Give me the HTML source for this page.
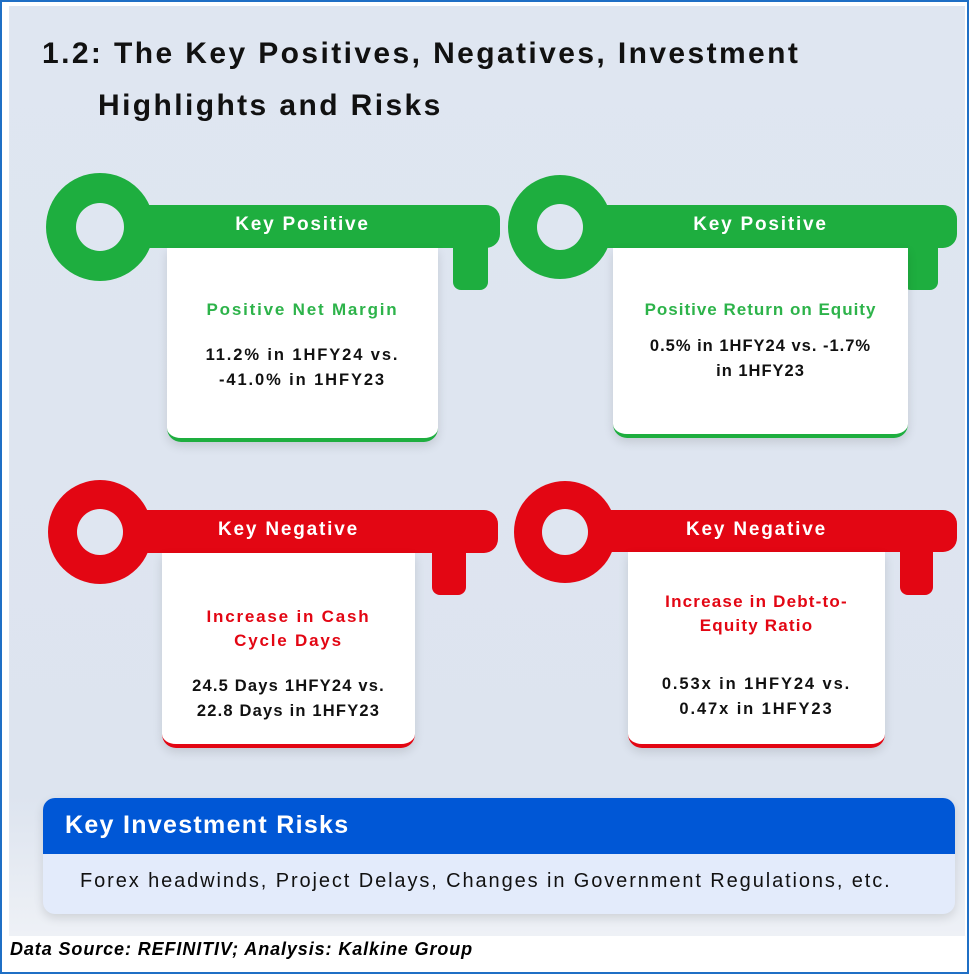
<!DOCTYPE html>
<html><head><meta charset="utf-8">
<style>
*{margin:0;padding:0;box-sizing:border-box}
body{width:969px;height:974px;background:#fff;font-family:"Liberation Sans",sans-serif;position:relative;overflow:hidden}
.frame{position:absolute;left:0;top:0;width:969px;height:974px;border:2px solid #1f6fc5}
.bg{position:absolute;left:9px;top:6px;width:956px;height:930px;background:linear-gradient(#dfe6f1 0%,#dde4ef 85%,#eef1f6 100%)}
.title{position:absolute;font-weight:bold;font-size:30px;color:#111;letter-spacing:2.4px;white-space:nowrap}
.card{position:absolute;background:#fff;border-radius:0 0 14px 14px;box-shadow:0 4px 10px rgba(0,0,0,0.12);text-align:center;font-weight:bold}
.card .h{position:absolute;left:0;width:100%;font-size:17px;letter-spacing:1.8px;white-space:nowrap}
.card .v{position:absolute;left:0;width:100%;font-size:16.5px;color:#111;line-height:25px;letter-spacing:1.9px;white-space:nowrap}
.lbl{position:absolute;color:#fff;font-weight:bold;font-size:19px;text-align:center;letter-spacing:1.8px}
</style></head><body>
<div class="frame"></div>
<div class="bg"></div>
<div class="title" style="left:42px;top:37px">1.2: The Key Positives, Negatives, Investment</div>
<div class="title" style="left:98px;top:89px">Highlights and Risks</div>

<svg style="position:absolute;left:0;top:0" width="969" height="974">
 <g fill="#1eae3f">
  <circle cx="100" cy="227" r="54"/><rect x="100" y="205" width="400" height="43" rx="14"/><rect x="453" y="230" width="35" height="60" rx="8"/>
  <circle cx="100" cy="227" r="24" fill="#dfe6f1"/></g>
 <g fill="#1eae3f">
  <circle cx="560" cy="227" r="52"/><rect x="560" y="205" width="397" height="43" rx="14"/><rect x="903" y="230" width="35" height="60" rx="8"/>
  <circle cx="560" cy="227" r="23" fill="#dfe6f1"/></g>
 <g fill="#e30613">
  <circle cx="100" cy="532" r="52"/><rect x="100" y="510" width="398" height="43" rx="14"/><rect x="432" y="535" width="34" height="60" rx="8"/>
  <circle cx="100" cy="532" r="23" fill="#dfe6f1"/></g>
 <g fill="#e30613">
  <circle cx="565" cy="532" r="51"/><rect x="565" y="510" width="392" height="42" rx="14"/><rect x="900" y="535" width="33" height="60" rx="8"/>
  <circle cx="565" cy="532" r="23" fill="#dfe6f1"/></g>
</svg>

<div class="lbl" style="left:167px;top:214px;width:271px">Key Positive</div>
<div class="lbl" style="left:613px;top:214px;width:295px">Key Positive</div>
<div class="lbl" style="left:162px;top:519px;width:253px">Key Negative</div>
<div class="lbl" style="left:628px;top:519px;width:257px">Key Negative</div>

<div class="card" style="left:167px;top:248px;width:271px;height:194px;border-bottom:4px solid #1eae3f">
 <div class="h" style="top:52px;color:#2db34a">Positive Net Margin</div>
 <div class="v" style="top:95px">11.2% in 1HFY24 vs.<br>-41.0% in 1HFY23</div></div>
<div class="card" style="left:613px;top:248px;width:295px;height:190px;border-bottom:4px solid #1eae3f">
 <div class="h" style="top:52px;color:#2db34a;letter-spacing:1px">Positive Return on Equity</div>
 <div class="v" style="top:86px;letter-spacing:1px">0.5% in 1HFY24 vs. -1.7%<br>in 1HFY23</div></div>
<div class="card" style="left:162px;top:553px;width:253px;height:195px;border-bottom:4px solid #e30613">
 <div class="h" style="top:52px;color:#e30613;line-height:24px">Increase in Cash<br>Cycle Days</div>
 <div class="v" style="top:121px;letter-spacing:1.2px">24.5 Days 1HFY24 vs.<br>22.8 Days in 1HFY23</div></div>
<div class="card" style="left:628px;top:552px;width:257px;height:196px;border-bottom:4px solid #e30613">
 <div class="h" style="top:38px;color:#e30613;line-height:24px;letter-spacing:1.2px">Increase in Debt-to-<br>Equity Ratio</div>
 <div class="v" style="top:120px">0.53x in 1HFY24 vs.<br>0.47x in 1HFY23</div></div>

<div style="position:absolute;left:43px;top:798px;width:912px;height:116px;border-radius:12px;background:#e3ebfb;box-shadow:0 4px 10px rgba(0,0,0,0.12);overflow:hidden">
 <div style="height:56px;background:#0057d6;color:#fff;font-size:25px;font-weight:bold;padding:13px 0 0 22px;letter-spacing:1.3px;white-space:nowrap">Key Investment Risks</div>
 <div style="font-size:20px;color:#111;padding:16px 0 0 37px;letter-spacing:1.9px;white-space:nowrap">Forex headwinds, Project Delays, Changes in Government Regulations, etc.</div>
</div>
<div style="position:absolute;left:10px;top:939px;font-size:18px;font-weight:bold;font-style:italic;color:#000;letter-spacing:0.9px;white-space:nowrap">Data Source: REFINITIV; Analysis: Kalkine Group</div>
</body></html>
